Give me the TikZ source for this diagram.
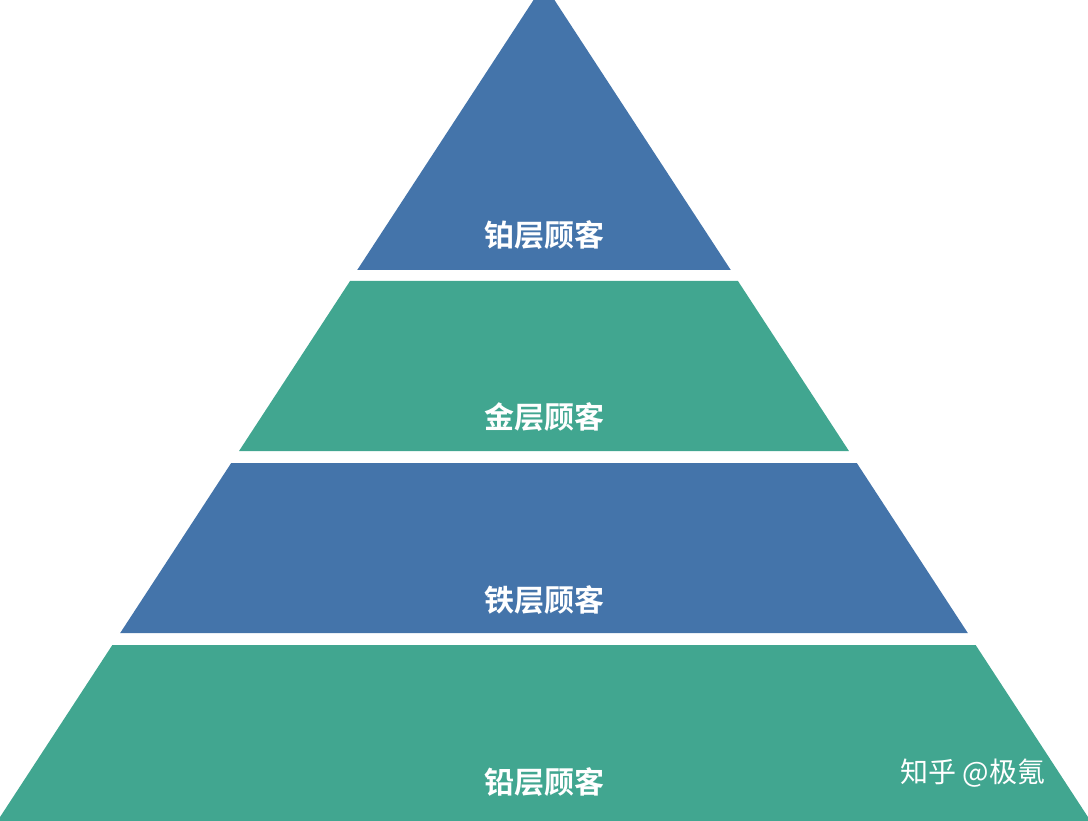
\documentclass[tikz,border=0pt]{standalone}
\usepackage{fontspec}
\newfontfamily\cjk{Noto Sans CJK SC}
\newfontfamily\cjkb{Noto Sans CJK SC Bold}
\definecolor{tblue}{HTML}{4474AA}
\definecolor{tgreen}{HTML}{41A690}
\begin{document}
\begin{tikzpicture}[x=1pt,y=-1pt,
  lbl/.style={text=white,font=\cjkb\fontsize{30}{32}\selectfont,anchor=center}]
\useasboundingbox (0,0) rectangle (1088,821);
\def\hw#1{0.653*(#1+16)}
\clip (0,0) rectangle (1088,821);
\fill[tblue] (544,-16) -- ({544+\hw{270}},270) -- ({544-\hw{270}},270) -- cycle;
\fill[tgreen] ({544-\hw{281}},281) -- ({544+\hw{281}},281) -- ({544+\hw{451}},451) -- ({544-\hw{451}},451) -- cycle;
\fill[tblue] ({544-\hw{463}},463) -- ({544+\hw{463}},463) -- ({544+\hw{633}},633) -- ({544-\hw{633}},633) -- cycle;
\fill[tgreen] ({544-\hw{645}},645) -- ({544+\hw{645}},645) -- ({544+\hw{830}},830) -- ({544-\hw{830}},830) -- cycle;
\node[lbl] (t1) at (544,235) {铂层顾客};
\node[lbl] (t2) at (544,417) {金层顾客};
\node[lbl] (t3) at (544,600) {铁层顾客};
\node[lbl] (t4) at (544,782) {铅层顾客};
\node[text=white,font=\cjk\fontsize{28}{30}\selectfont] (wm) at (973,773) {知乎 @极氪};
\end{tikzpicture}
\end{document}
